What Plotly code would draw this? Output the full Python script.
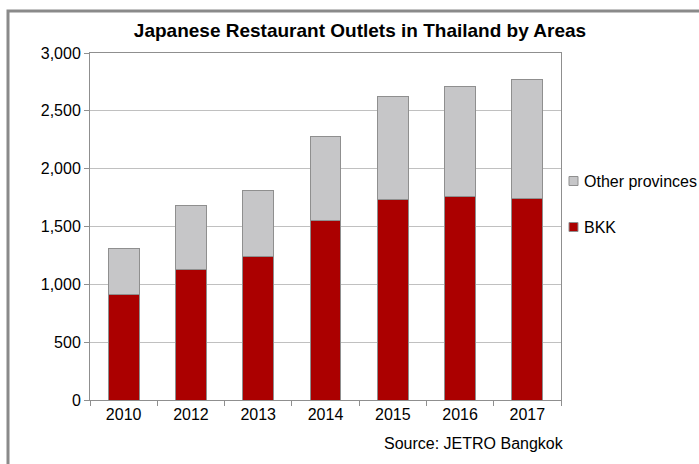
import plotly.graph_objects as go

# data
years = ["2010", "2012", "2013", "2014", "2015", "2016", "2017"]
bkk = [915, 1130, 1245, 1555, 1730, 1758, 1744]
other_provinces = [392, 550, 565, 725, 890, 954, 1031]

BKK_RED = "#ab0000"
OTHER_GREY = "#c6c6c8"
EDGE = "#8f8f8f"
FONT = "Liberation Sans, Arial, sans-serif"

# plot area in pixels (used only to place the frame, legend and note)
L, R, T, B = 90, 561, 53, 400


def px_x(x):
    return (x - L) / (R - L)


def px_y(y):
    return (B - y) / (B - T)


fig = go.Figure()
fig.add_trace(go.Bar(
    x=years, y=bkk, name="BKK",
    marker=dict(color=BKK_RED, line=dict(color=EDGE, width=1)),
))
fig.add_trace(go.Bar(
    x=years, y=other_provinces, name="Other provinces",
    marker=dict(color=OTHER_GREY, line=dict(color=EDGE, width=1)),
))

fig.update_layout(
    barmode="stack",
    bargap=0.54,
    width=699, height=464,
    margin=dict(l=L, r=699 - R, t=T, b=464 - B),
    paper_bgcolor="white",
    plot_bgcolor="white",
    font=dict(family=FONT, size=16, color="black"),
    title=dict(
        text="<b>Japanese Restaurant Outlets in Thailand by Areas</b>",
        x=360 / 699, xref="container", xanchor="center",
        y=1 - 30 / 464, yref="container", yanchor="middle",
        font=dict(size=19, family=FONT, color="black"),
    ),
    showlegend=False,
)

fig.update_xaxes(
    type="category",
    showline=True, linecolor=EDGE, linewidth=1, mirror=True,
    ticks="outside", tickson="boundaries", ticklen=5, tickcolor=EDGE,
    showgrid=False,
)
fig.update_yaxes(
    range=[0, 3000], dtick=500, tickformat=",d",
    showline=True, linecolor=EDGE, linewidth=1, mirror=True,
    ticks="outside", ticklen=5, tickcolor=EDGE,
    showgrid=True, gridcolor="#c0c0c0", gridwidth=1,
    zeroline=False,
)

# legend drawn by hand so it can run off the right edge like the picture
legend_items = [("Other provinces", OTHER_GREY, 181), ("BKK", BKK_RED, 227)]
for label, colour, yc in legend_items:
    fig.add_shape(
        type="rect", xref="paper", yref="paper",
        x0=px_x(569), x1=px_x(578), y0=px_y(yc + 4.5), y1=px_y(yc - 4.5),
        line=dict(color=EDGE, width=1), fillcolor=colour,
    )
    fig.add_annotation(
        text=label, xref="paper", yref="paper",
        x=px_x(582), y=px_y(yc), xanchor="left", yanchor="middle",
        showarrow=False, font=dict(size=16, family=FONT, color="black"),
    )

fig.add_annotation(
    text="Source: JETRO Bangkok",
    xref="paper", yref="paper", x=px_x(566), y=px_y(443),
    xanchor="right", yanchor="middle", showarrow=False,
    font=dict(size=16, family=FONT, color="black"),
)

# outer chart frame, cropped on the right and bottom like the picture
fig.add_shape(
    type="rect", xref="paper", yref="paper",
    x0=px_x(8), x1=1.5, y0=-0.4, y1=px_y(11),
    line=dict(color="#8a8a8a", width=3), fillcolor="rgba(0,0,0,0)",
    layer="below",
)

fig.write_html(
    "out.html",
    config={"displayModeBar": False},
    post_script="document.body.style.margin='0';",
)
